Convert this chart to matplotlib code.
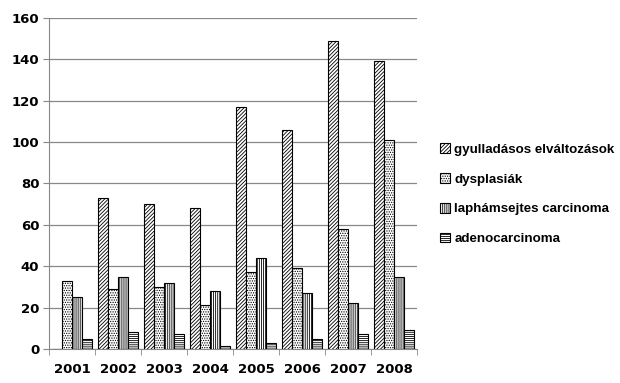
import numpy as np
import matplotlib.pyplot as plt

years = ["2001", "2002", "2003", "2004", "2005", "2006", "2007", "2008"]
gyulladasos = [0, 73, 70, 68, 117, 106, 149, 139]
dysplasiak = [33, 29, 30, 21, 37, 39, 58, 101]
laphamsejtes = [25, 35, 32, 28, 44, 27, 22, 35]
adenocarcinoma = [5, 8, 7, 1.5, 3, 5, 7, 9]

series = [
    ("gyulladásos elváltozások", gyulladasos, "/" * 9),
    ("dysplasiák", dysplasiak, "." * 7),
    ("laphámsejtes carcinoma", laphamsejtes, "|" * 8),
    ("adenocarcinoma", adenocarcinoma, "-" * 8),
]

plt.rcParams['hatch.linewidth'] = 0.6
plt.rcParams['hatch.color'] = '#303030'
plt.rcParams['font.family'] = ['DejaVu Sans']

fig = plt.figure(figsize=(6.2, 3.83), dpi=100)
ax = fig.add_axes([0.079, 0.089, 0.594, 0.864])

x = np.arange(len(years))
w = 0.22
for i, (nev, ertekek, minta) in enumerate(series):
    ax.bar(x + (i - 1.5) * w, ertekek, w, label=nev, color='white',
           edgecolor='black', linewidth=0.8, hatch=minta, zorder=3)

ax.set_xlim(-0.5, len(years) - 0.5)
ax.set_ylim(0, 160)
ax.set_yticks(range(0, 161, 20))
ax.set_xticks(x)
ax.set_xticklabels(years)
ax.set_xticks(np.arange(-0.5, len(years), 1), minor=True)
ax.tick_params(axis='x', which='major', length=0, pad=10)
ax.tick_params(axis='x', which='minor', length=4, color='#888888')
ax.tick_params(axis='y', length=4, color='#888888', pad=3)
for lbl in ax.get_xticklabels() + ax.get_yticklabels():
    lbl.set_fontweight('bold')
    lbl.set_fontsize(9.5)

ax.grid(axis='y', color='#888888', linewidth=0.9, zorder=0)
for s in ['top', 'right']:
    ax.spines[s].set_visible(False)
ax.spines['left'].set_color('#888888')
ax.spines['bottom'].set_color('#888888')

leg = fig.legend(loc='center left', bbox_to_anchor=(0.69, 0.493), frameon=False,
                 handlelength=0.75, handleheight=0.75, handletextpad=0.35,
                 labelspacing=1.3,
                 prop={'family': 'Liberation Sans', 'weight': 'bold', 'size': 9.6})

fig.savefig("out.png", dpi=100)
